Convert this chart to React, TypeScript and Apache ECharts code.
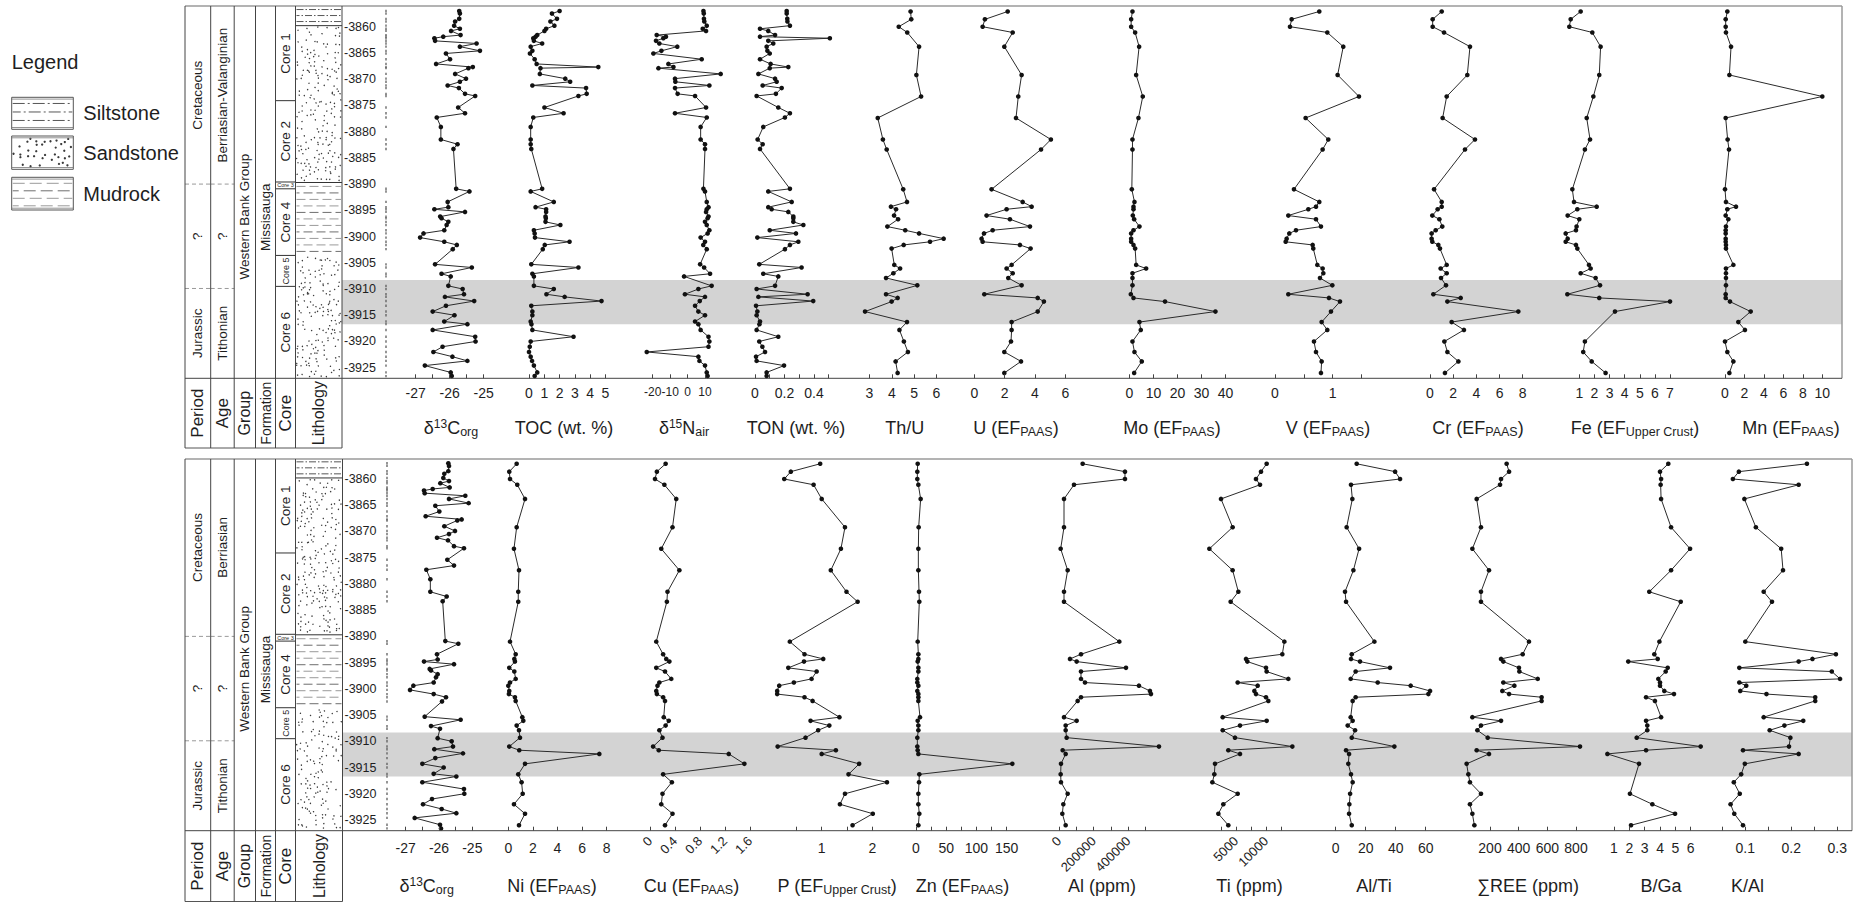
import React, { useEffect, useRef } from "react";
import * as echarts from "echarts";

const FONT = '"Liberation Sans", Arial, Helvetica, sans-serif';
const INK = "#1e1e1e";

// ---------------- data ----------------
const D13C_DEPTH = [3857.0, 3857.5, 3858.5, 3859.0, 3859.8, 3860.4, 3860.8, 3861.6, 3861.9, 3862.2,
  3862.7, 3863.2, 3863.8, 3864.6, 3865.1, 3866.2, 3867.1, 3867.7, 3867.9, 3869.0,
  3869.9, 3870.5, 3871.2, 3871.7, 3872.8, 3873.2, 3875.4, 3876.5, 3877.3, 3879.1,
  3881.5, 3882.4, 3883.3, 3890.9, 3891.4, 3893.4, 3894.4, 3894.8, 3895.3, 3896.2,
  3896.5, 3897.2, 3897.8, 3898.8, 3899.4, 3900.2, 3901.0, 3901.6, 3902.4, 3905.3,
  3905.9, 3907.1, 3907.6, 3909.4, 3910.0, 3911.0, 3911.5, 3912.3, 3913.2, 3914.3,
  3915.0, 3916.2, 3916.7, 3917.8, 3919.1, 3920.0, 3921.0, 3922.0, 3922.9, 3923.7,
  3924.6, 3925.9, 3926.6];
const D13C = [-25.72, -25.70, -25.72, -25.84, -25.87, -25.70, -25.96, -25.68, -26.19, -26.45,
  -26.43, -25.21, -25.70, -25.11, -26.11, -25.99, -26.40, -25.32, -25.45, -25.84,
  -25.52, -25.70, -26.06, -25.73, -25.55, -25.25, -25.75, -25.55, -26.38, -26.26,
  -26.26, -25.77, -25.89, -25.81, -25.42, -26.06, -26.04, -26.45, -25.55, -26.28,
  -26.24, -26.04, -26.09, -26.16, -26.77, -26.87, -26.16, -25.79, -25.91, -26.43,
  -25.35, -26.24, -25.97, -26.04, -25.62, -25.58, -26.14, -25.28, -26.11, -26.50,
  -25.86, -26.16, -25.48, -26.50, -25.25, -25.24, -26.21, -26.48, -25.92, -25.48,
  -26.73, -25.97, -25.94];
const TOC = [2.0, 1.5, 1.83, 1.4, 1.66, 1.12, 1.01, 0.54, 0.43, 0.28,
  0.32, 0.86, 0.11, 0.22, 0.06, 0.37, 0.5, 4.53, 0.75, 0.71,
  2.37, 2.69, 0.22, 3.73, 3.77, 3.23, 1.01, 2.26, 0.28, 0.11,
  0.11, 0.11, 0.15, 0.86, 0.11, 1.62, 0.43, 1.12, 1.12, 1.08,
  1.1, 1.08, 2.05, 0.32, 0.37, 0.39, 2.65, 1.03, 0.9, 0.15,
  3.23, 0.22, 0.32, 0.32, 1.62, 1.14, 2.33, 4.74, 0.15, 0.22,
  0.22, 0.11, 0.16, 0.22, 2.91, 0.11, 0.05, 0.0, 0.11, 0.2,
  0.32, 0.54, 0.37];
const D15N = [9.1, 9.3, 9.4, 9.6, 11.0, 8.7, 10.6, -17.7, -12.4, -13.9,
  -18.1, -16.2, -5.9, -15.0, -19.6, 8.1, -11.0, -8.1, -16.7, 19.0,
  -7.2, -7.0, 12.5, -7.2, -5.7, 4.3, 10.6, -7.2, 11.0, 7.5,
  7.5, 10.0, 10.0, 9.1, 10.0, 11.0, 12.0, 11.0, 10.6, 12.0,
  11.5, 10.0, 11.0, 12.5, 11.5, 7.5, 10.0, 9.0, 11.0, 7.2,
  9.5, 12.9, -2.0, 13.8, 6.2, -1.5, 10.0, 7.0, 4.3, 6.2,
  10.0, 4.3, 6.2, 7.5, 12.0, 12.5, 12.0, -23.4, 6.2, 6.8,
  10.0, 11.0, 11.5];
const TON = [0.215, 0.215, 0.219, 0.22, 0.237, 0.034, 0.09, 0.136, 0.034, 0.508,
  0.09, 0.124, 0.079, 0.084, 0.10, 0.034, 0.106, 0.226, 0.10, 0.023,
  0.136, 0.147, 0.052, 0.181, 0.142, 0.011, 0.158, 0.237, 0.203, 0.056,
  0.018, 0.052, 0.034, 0.237, 0.09, 0.249, 0.09, 0.113, 0.226, 0.26,
  0.26, 0.26, 0.328, 0.10, 0.278, 0.016, 0.294, 0.237, 0.203, 0.029,
  0.316, 0.056, 0.158, 0.136, 0.011, 0.357, 0.023, 0.395, 0.007, 0.016,
  0.011, 0.034, 0.03, 0.011, 0.158, 0.029, 0.05, 0.068, 0.007, 0.011,
  0.197, 0.079, 0.079];

const ELEM_DEPTH = [3857.1, 3858.6, 3860.0, 3861.1, 3863.8, 3869.2, 3873.3, 3877.4, 3881.5, 3883.4,
  3891.0, 3893.4, 3894.3, 3894.8, 3896.0, 3896.7, 3898.1, 3898.8, 3899.4, 3900.4,
  3901.0, 3901.6, 3902.3, 3905.4, 3906.1, 3907.0, 3907.9, 3909.3, 3911.0, 3911.7,
  3912.4, 3914.3, 3916.3, 3917.8, 3920.0, 3922.0, 3923.8, 3926.0];
const TH_U = [4.84, 4.87, 4.31, 4.69, 5.22, 5.10, 5.31, 3.37, 3.60, 3.77, 4.51, 4.68, 3.96, 4.19, 4.10, 4.28, 3.80, 4.60, 5.22, 6.32, 5.71, 4.53, 3.99, 4.11, 4.37, 4.07, 3.74, 5.14, 3.74, 4.26, 3.99, 2.80, 4.68, 4.34, 4.54, 4.72, 4.17, 4.26];
const U_EF = [2.20, 0.70, 0.55, 2.53, 1.98, 3.12, 2.90, 2.75, 5.05, 4.40, 1.14, 3.19, 3.78, 2.13, 0.81, 2.35, 3.67, 1.21, 0.64, 0.48, 0.55, 3.01, 3.71, 2.46, 2.13, 2.53, 2.24, 3.12, 0.66, 4.18, 4.59, 4.18, 2.46, 2.46, 2.42, 1.98, 3.08, 1.98];
const MO_EF = [1.24, 0.69, 0.69, 2.35, 4.01, 2.77, 5.53, 3.73, 1.24, 1.24, 0.97, 2.07, 1.66, 1.66, 1.38, 1.94, 4.15, 1.66, 0.69, 0.69, 0.69, 1.66, 2.35, 2.77, 6.92, 1.24, 1.24, 1.24, 0.55, 1.66, 14.8, 35.8, 4.15, 4.70, 1.24, 2.07, 5.12, 1.94];
const V_EF = [0.768, 0.289, 0.26, 0.907, 1.184, 1.086, 1.456, 0.531, 0.924, 0.826, 0.329, 0.768, 0.711, 0.578, 0.231, 0.711, 0.797, 0.364, 0.248, 0.202, 0.185, 0.653, 0.664, 0.734, 0.826, 0.838, 0.78, 0.994, 0.231, 0.936, 1.127, 0.971, 0.809, 0.907, 0.676, 0.711, 0.809, 0.797];
const CR_EF = [1.01, 0.23, 0.23, 1.21, 3.45, 3.22, 1.44, 1.09, 3.88, 3.02, 0.35, 1.01, 1.01, 0.66, 0.20, 0.81, 1.06, 0.49, 0.14, 0.14, 0.20, 0.72, 0.86, 1.44, 0.92, 1.44, 0.95, 1.38, 0.29, 2.65, 1.50, 7.62, 1.87, 2.93, 1.24, 1.50, 2.45, 1.29];
const FE_EF = [1.09, 0.43, 0.34, 1.86, 2.41, 2.32, 1.93, 1.49, 1.71, 1.37, 0.54, 0.65, 2.15, 0.87, 0.23, 1.0, 0.82, 0.78, 0.10, 0.23, 0.10, 0.78, 0.87, 1.64, 1.75, 1.09, 2.08, 2.37, 0.21, 2.32, 7.0, 3.36, null, null, 1.37, 1.26, 1.82, 2.74];
const MN_EF = [0.24, 0.07, 0.07, 0.10, 0.62, 0.45, 10.0, 0.07, 0.27, 0.41, 0.0, 0.10, 1.13, 0.24, 0.07, 0.34, 0.10, 0.07, 0.07, 0.07, 0.07, 0.10, 0.10, 0.86, 0.10, 0.10, 0.10, 0.10, 0.07, 0.07, 0.51, 2.64, 1.37, 2.05, 0.0, 0.24, 0.86, 0.45];
const NI_EF = [0.68, 0.08, 0.14, 0.73, 1.36, 0.68, 0.46, 0.87, 0.81, 0.81, 0.14, 0.60, 0.49, 0.54, 0.08, 0.49, 0.60, 0.14, 0.0, 0.08, 0.05, 0.54, 0.60, 1.14, 1.22, 0.68, 0.87, 0.95, 0.08, 0.89, 7.40, 1.36, 0.81, 1.08, 1.17, 0.46, 1.36, 0.87];
const CU_EF = [0.25, 0.11, 0.08, 0.23, 0.42, 0.36, 0.18, 0.47, 0.28, 0.27, 0.10, 0.21, 0.26, 0.31, 0.10, 0.24, 0.34, 0.15, 0.12, 0.10, 0.11, 0.21, 0.24, 0.22, 0.30, 0.25, 0.15, 0.20, 0.05, 0.14, 1.26, 1.51, 0.21, 0.35, 0.20, 0.18, 0.36, 0.24];
const P_EF = [0.97, 0.39, 0.26, 0.84, 1.0, 1.46, 1.38, 1.18, 1.49, 1.71, 0.37, 0.66, 1.03, 0.65, 0.34, 0.90, 0.80, 0.45, 0.16, 0.12, 0.12, 0.66, 0.82, 1.35, 0.78, 1.15, 0.93, 0.68, 0.13, 1.28, 1.0, 1.74, 1.53, 2.29, 1.46, 1.36, 2.01, 1.61];
const ZN_EF = [2.8, 2.2, 2.2, 3.9, 7.7, 4.4, 3.9, 3.9, 5.0, 5.5, 2.8, 3.9, 3.9, 2.8, 3.9, 3.9, 2.2, 2.2, 3.9, 2.2, 3.9, 3.9, 3.9, 6.6, 2.8, 3.9, 3.9, 2.2, 2.2, 2.8, 3.9, 159.3, 5.5, 5.0, 3.9, 3.9, 5.5, 3.9];
const AL_PPM = [136600, 380900, 380900, 86600, 28900, 28900, 9600, 50000, 28900, 28900, 348200, 127000, 63500, 102000, 386700, 127000, 127000, 150000, 461700, 525200, 531000, 127000, 107700, 28900, 102000, 38500, 38500, 44200, 577100, 21200, 38500, 11500, 9600, 11500, 50000, 25000, 19200, 38500];
const TI_PPM = [10110, 9170, 8330, 9000, 2500, 4440, 560, 4440, 5390, 4110, 13060, 12720, 6670, 6890, 10000, 10110, 13720, 5280, 8610, 8060, 8330, 10000, 10390, 2780, 10110, 5670, 2780, 4830, 14390, 3720, 5670, 1500, 1390, 1060, 5280, 2890, 2060, 3720];
const AL_TI = [14.0, 39.6, 42.9, 10.2, 11.1, 7.3, 15.6, 11.8, 6.2, 6.9, 25.8, 10.7, 10.2, 16.2, 36.2, 13.3, 10.0, 28.0, 50.0, 62.9, 61.8, 13.3, 11.3, 10.0, 11.3, 8.0, 12.9, 10.7, 39.1, 6.9, 8.9, 8.4, 10.2, 11.3, 9.6, 9.1, 8.9, 10.7];
const REE_PPM = [316, 333, 277, 270, 107, 137, 77, 193, 137, 137, 472, 428, 277, 293, 402, 405, 533, 293, 370, 286, 333, 560, 560, 77, 277, 137, 112, 184, 828, 107, 193, 37, 49, 60, 137, 60, 77, 91];
const B_GA = [4.54, 4.0, 4.07, 4.04, 4.07, 4.72, 5.96, 4.72, 3.30, 5.35, 3.96, 3.63, 3.85, 1.93, 4.5, 4.37, 3.89, 4.0, 4.0, 4.28, 4.91, 3.09, 3.67, 4.07, 3.09, 3.17, 3.17, 2.48, 6.65, 3.09, 0.57, 2.63, null, null, 2.04, 3.5, 4.98, 2.11];
const K_AL = [0.234, 0.086, 0.073, 0.216, 0.098, 0.123, 0.178, 0.182, 0.140, 0.158, 0.100, 0.297, 0.246, 0.216, 0.087, 0.288, 0.306, 0.087, 0.102, 0.089, 0.146, 0.252, 0.252, 0.140, 0.226, 0.185, 0.153, 0.198, 0.195, 0.095, 0.216, 0.099, 0.091, 0.075, 0.088, 0.068, 0.076, 0.095];

// shaded interval (depth, m)
const BAND = [3908.3, 3916.7];
// depth axis (m)
const DEPTH_AXIS = [3860, 3925];
const DEPTH_DATA_RANGE = [3855, 3928];

// stratigraphic column
const COLUMN_LIMITS = [3856.1, 3927.0];
const PERIOD_NAMES = ["Cretaceous", "?", "Jurassic"];
const AGE_NAMES_TOP = ["Berriasian-Valanginian", "?", "Tithonian"];
const AGE_NAMES_BOTTOM = ["Berriasian", "?", "Tithonian"];
const AGE_BOUNDS = [3856.1, 3890.0, 3909.9, 3927.0];
const GROUP_NAME = "Western Bank Group";
const GROUP_LABEL_DEPTH = 3896.2;
const FORMATION_NAME = "Missisauga";
const FORMATION_LABEL_DEPTH = 3896.3;
const CORE_NAMES = ["Core 1", "Core 2", "Core 3", "Core 4", "Core 5", "Core 6"];
const CORE_BOUNDS = [3856.1, 3874.1, 3889.6, 3890.9, 3903.6, 3909.5, 3927.0];
const LITHO_TYPES = ["silt", "sand", "mud", "sand"];
const LITHO_BOUNDS = [3856.1, 3859.8, 3889.7, 3903.6, 3927.0];
const HEADERS = ["Period", "Age", "Group", "Formation", "Core", "Lithology"];
const LEGEND_ITEMS = ["Siltstone", "Sandstone", "Mudrock"];

// tick labels
const TL_D13C = [-27, -26, -25];
const TL_TOC = [0, 1, 2, 3, 4, 5];
const TL_D15N = [-20, -10, 0, 10];
const TL_TON = [0, 0.2, 0.4];
const TL_THU = [3, 4, 5, 6];
const TL_U = [0, 2, 4, 6];
const TL_MO = [0, 10, 20, 30, 40];
const TL_V = [0, 1];
const TL_CR = [0, 2, 4, 6, 8];
const TL_FE = [1, 2, 3, 4, 5, 6, 7];
const TL_MN = [0, 2, 4, 6, 8, 10];
const TL_NI = [0, 2, 4, 6, 8];
const TL_CU = [0, 0.4, 0.8, 1.2, 1.6];
const TL_P = [1, 2];
const TL_ZN = [0, 50, 100, 150];
const TL_AL = [0, 200000, 400000];
const TL_TI = [5000, 10000];
const TL_ALTI = [0, 20, 40, 60];
const TL_REE = [200, 400, 600, 800];
const TL_BGA = [1, 2, 3, 4, 5, 6];
const TL_KAL = [0.1, 0.2, 0.3];

// titles (rich text)
const TITLES_TOP = [
  "{n|δ}{sup|13}{n|C}{sub|org}", "{n|TOC (wt. %)}", "{n|δ}{sup|15}{n|N}{sub|air}", "{n|TON (wt. %)}",
  "{n|Th/U}", "{n|U (EF}{sub|PAAS}{n|)}", "{n|Mo (EF}{sub|PAAS}{n|)}", "{n|V (EF}{sub|PAAS}{n|)}",
  "{n|Cr (EF}{sub|PAAS}{n|)}", "{n|Fe (EF}{sub|Upper Crust}{n|)}", "{n|Mn (EF}{sub|PAAS}{n|)}",
];
const TITLES_BOTTOM = [
  "{n|δ}{sup|13}{n|C}{sub|org}", "{n|Ni (EF}{sub|PAAS}{n|)}", "{n|Cu (EF}{sub|PAAS}{n|)}", "{n|P (EF}{sub|Upper Crust}{n|)}",
  "{n|Zn (EF}{sub|PAAS}{n|)}", "{n|Al (ppm)}", "{n|Ti (ppm)}", "{n|Al/Ti}", "{n|∑REE (ppm)}", "{n|B/Ga}", "{n|K/Al}",
];

// ---------------- layout ----------------
const GEO = [
  { y3860: 26.7, y3925: 367.7, frameTop: 6, axisY: 378.3, headerBottom: 448, right: 1842, depthX: 342, markX: 386, labelMargin: 8, titleY: 428 },
  { y3860: 479, y3925: 820, frameTop: 459, axisY: 830.7, headerBottom: 901.5, right: 1852, depthX: 342.5, markX: 387, labelMargin: 10, titleY: 886 },
];
const COL_X = [185, 210.7, 234.2, 255.5, 275.5, 295.5];

type Sub = { vals: (number | null)[]; depth: number[]; min: number; max: number; interval: number; x0: number; x1: number; labels: number[]; tx: number; rotate?: number; fs?: number };

const TOP_SUBS: Sub[] = [
  { vals: D13C, depth: D13C_DEPTH, min: -27, max: -25, interval: 0.5, x0: 415.7, x1: 483.7, labels: TL_D13C, tx: 451 },
  { vals: TOC, depth: D13C_DEPTH, min: 0, max: 5, interval: 1, x0: 529, x1: 605.5, labels: TL_TOC, tx: 564 },
  { vals: D15N, depth: D13C_DEPTH, min: -20, max: 10, interval: 10, x0: 652.7, x1: 705, labels: TL_D15N, tx: 684, fs: 12 },
  { vals: TON, depth: D13C_DEPTH, min: 0, max: 0.5, interval: 0.1, x0: 755, x1: 828.7, labels: TL_TON, tx: 796 },
  { vals: TH_U, depth: ELEM_DEPTH, min: 3, max: 6, interval: 1, x0: 869.5, x1: 936.5, labels: TL_THU, tx: 904.7 },
  { vals: U_EF, depth: ELEM_DEPTH, min: 0, max: 6, interval: 2, x0: 974.3, x1: 1065.3, labels: TL_U, tx: 1016 },
  { vals: MO_EF, depth: ELEM_DEPTH, min: 0, max: 40, interval: 10, x0: 1129.5, x1: 1225.5, labels: TL_MO, tx: 1172 },
  { vals: V_EF, depth: ELEM_DEPTH, min: 0, max: 1.5, interval: 0.5, x0: 1275, x1: 1361.5, labels: TL_V, tx: 1328 },
  { vals: CR_EF, depth: ELEM_DEPTH, min: 0, max: 8, interval: 2, x0: 1430, x1: 1522.7, labels: TL_CR, tx: 1478 },
  { vals: FE_EF, depth: ELEM_DEPTH, min: 1, max: 7, interval: 1, x0: 1579.3, x1: 1670, labels: TL_FE, tx: 1635 },
  { vals: MN_EF, depth: ELEM_DEPTH, min: 0, max: 10, interval: 2, x0: 1725, x1: 1822.3, labels: TL_MN, tx: 1791 },
];
const BOTTOM_SUBS: Sub[] = [
  { vals: D13C, depth: D13C_DEPTH, min: -27, max: -25, interval: 0.5, x0: 405.7, x1: 472.3, labels: TL_D13C, tx: 426.7 },
  { vals: NI_EF, depth: ELEM_DEPTH, min: 0, max: 8, interval: 2, x0: 508.3, x1: 606.7, labels: TL_NI, tx: 552 },
  { vals: CU_EF, depth: ELEM_DEPTH, min: 0, max: 1.6, interval: 0.4, x0: 650, x1: 750, labels: TL_CU, tx: 691.5, rotate: 45, fs: 13 },
  { vals: P_EF, depth: ELEM_DEPTH, min: 0.5, max: 2, interval: 0.5, x0: 796.4, x1: 872.3, labels: TL_P, tx: 837 },
  { vals: ZN_EF, depth: ELEM_DEPTH, min: 0, max: 150, interval: 25, x0: 916, x1: 1006.7, labels: TL_ZN, tx: 962.5 },
  { vals: AL_PPM, depth: ELEM_DEPTH, min: 0, max: 500000, interval: 100000, x0: 1059, x1: 1145.6, labels: TL_AL, tx: 1102, rotate: 45, fs: 13 },
  { vals: TI_PPM, depth: ELEM_DEPTH, min: 2500, max: 12500, interval: 2500, x0: 1221, x1: 1281, labels: TL_TI, tx: 1249.5, rotate: 45, fs: 13 },
  { vals: AL_TI, depth: ELEM_DEPTH, min: 0, max: 60, interval: 20, x0: 1335.7, x1: 1425.7, labels: TL_ALTI, tx: 1374 },
  { vals: REE_PPM, depth: ELEM_DEPTH, min: 200, max: 800, interval: 200, x0: 1490, x1: 1576, labels: TL_REE, tx: 1528 },
  { vals: B_GA, depth: ELEM_DEPTH, min: 1, max: 6, interval: 1, x0: 1614, x1: 1690.7, labels: TL_BGA, tx: 1661 },
  { vals: K_AL, depth: ELEM_DEPTH, min: 0.05, max: 0.3, interval: 0.05, x0: 1722.3, x1: 1837.3, labels: TL_KAL, tx: 1747.5 },
];

// ---------------- pattern helpers ----------------
function frac(x: number) { return x - Math.floor(x); }
function hsh(k: number, a: number) { return frac(Math.sin(k * a) * 43758.5453); }

function sandPattern(x0: number, y0: number, x1: number, y1: number, step: number, r: number, seed: number, keep: number) {
  const out: any[] = [];
  let k = seed;
  for (let y = y0 + step * 0.5; y < y1 - 0.5; y += step) {
    for (let x = x0 + step * 0.5; x < x1 - 0.5; x += step) {
      k += 1;
      if (hsh(k, 39.42) > keep) continue;
      const cx = x + (hsh(k, 12.9898) - 0.5) * step * 0.85;
      const cy = y + (hsh(k, 78.233) - 0.5) * step * 0.85;
      if (cx < x0 + 1 || cx > x1 - 1 || cy < y0 + 1 || cy > y1 - 1) continue;
      out.push({ type: "circle", silent: true, shape: { cx, cy, r }, style: { fill: "#3a3a3a" } });
    }
  }
  return out;
}
function siltPattern(x0: number, y0: number, x1: number, y1: number, gap: number, dash: number[]) {
  const out: any[] = [];
  let i = 0;
  for (let y = y0 + gap * 0.55; y < y1 - 1; y += gap) {
    out.push({ type: "line", silent: true, shape: { x1: x0 + 1, y1: y, x2: x1 - 1, y2: y }, style: { stroke: "#444", lineWidth: 0.9, lineDash: dash, lineDashOffset: (i % 2) * 4 } });
    i++;
  }
  return out;
}
function mudPattern(x0: number, y0: number, x1: number, y1: number, gap: number, dash: number[]) {
  const out: any[] = [];
  let i = 0;
  for (let y = y0 + gap * 0.6; y < y1 - 1; y += gap) {
    out.push({ type: "line", silent: true, shape: { x1: x0 + 1, y1: y, x2: x1 - 1, y2: y }, style: { stroke: i % 3 === 1 ? "#6e6e6e" : "#9a9a9a", lineWidth: 1, lineDash: dash, lineDashOffset: (i % 2) * 6 } });
    i++;
  }
  return out;
}
function patternFor(type: string, x0: number, y0: number, x1: number, y1: number, seed: number, legend: boolean) {
  if (type === "sand") return legend ? sandPattern(x0, y0, x1, y1, 6, 1.15, seed, 0.7) : sandPattern(x0, y0, x1, y1, 4.2, 0.7, seed, 0.72);
  if (type === "silt") return legend ? siltPattern(x0, y0, x1, y1, 8.5, [12, 3, 2, 3]) : siltPattern(x0, y0, x1, y1, 6, [7, 2, 1.5, 2]);
  return legend ? mudPattern(x0, y0, x1, y1, 7.5, [12, 5]) : mudPattern(x0, y0, x1, y1, 6.5, [9, 4]);
}

type Cell = { col: number; top: number; bottom: number; label?: string; fs?: number; horiz?: boolean; fill?: string; line?: string | null; labelDepth?: number; seed: number };

function buildCells(ageNames: string[]): Cell[] {
  const cells: Cell[] = [];
  for (let i = 0; i < 3; i++) {
    cells.push({ col: 0, top: AGE_BOUNDS[i], bottom: AGE_BOUNDS[i + 1], label: PERIOD_NAMES[i], line: i < 2 ? "dash" : null, seed: 0 });
    cells.push({ col: 1, top: AGE_BOUNDS[i], bottom: AGE_BOUNDS[i + 1], label: ageNames[i], line: i < 2 ? "dash" : null, seed: 0 });
  }
  cells.push({ col: 2, top: COLUMN_LIMITS[0], bottom: COLUMN_LIMITS[1], label: GROUP_NAME, labelDepth: GROUP_LABEL_DEPTH, seed: 0 });
  cells.push({ col: 3, top: COLUMN_LIMITS[0], bottom: COLUMN_LIMITS[1], label: FORMATION_NAME, labelDepth: FORMATION_LABEL_DEPTH, seed: 0 });
  for (let i = 0; i < CORE_NAMES.length; i++) {
    cells.push({ col: 4, top: CORE_BOUNDS[i], bottom: CORE_BOUNDS[i + 1], label: CORE_NAMES[i], fs: i === 2 ? 5.5 : i === 4 ? 9 : 13.5, horiz: i === 2, line: i < CORE_NAMES.length - 1 ? "solid" : null, seed: 0 });
  }
  for (let i = 0; i < LITHO_TYPES.length; i++) {
    cells.push({ col: 5, top: LITHO_BOUNDS[i], bottom: LITHO_BOUNDS[i + 1], fill: LITHO_TYPES[i], line: i < 2 ? "solid" : null, seed: 1000 * (i + 1) });
  }
  return cells;
}

function tickFormatter(labels: number[]) {
  return (v: number) => {
    const ok = labels.some((l) => Math.abs(l - v) < 1e-6 * Math.max(1, Math.abs(l)));
    return ok ? String(parseFloat(v.toFixed(6))) : "";
  };
}

const RICH = {
  n: { fontSize: 18, fontFamily: FONT, fill: INK, lineHeight: 20 },
  sup: { fontSize: 12, fontFamily: FONT, fill: INK, lineHeight: 12, verticalAlign: "top" },
  sub: { fontSize: 12.5, fontFamily: FONT, fill: INK, lineHeight: 14, verticalAlign: "bottom" },
};

function buildOption() {
  const grid: any[] = [];
  const xAxis: any[] = [];
  const yAxis: any[] = [];
  const series: any[] = [];
  const graphic: any[] = [];

  const addGrid = (left: number, width: number, geo: any) => {
    grid.push({ left, width, top: geo.y3860, height: geo.y3925 - geo.y3860, containLabel: false });
    return grid.length - 1;
  };
  const hiddenX = (g: number) => ({ gridIndex: g, type: "value", min: 0, max: 1, show: false });
  const hiddenY = (g: number) => ({ gridIndex: g, type: "value", min: -DEPTH_AXIS[1], max: -DEPTH_AXIS[0], show: false });

  const panels = [
    { subs: TOP_SUBS, titles: TITLES_TOP, ages: AGE_NAMES_TOP },
    { subs: BOTTOM_SUBS, titles: TITLES_BOTTOM, ages: AGE_NAMES_BOTTOM },
  ];

  panels.forEach((panel, p) => {
    const geo = GEO[p];
    const pxPerM = (geo.y3925 - geo.y3860) / (DEPTH_AXIS[1] - DEPTH_AXIS[0]);

    // shaded band + depth labels
    let g = addGrid(geo.depthX, geo.right - geo.depthX, geo);
    xAxis.push(hiddenX(g));
    yAxis.push({
      gridIndex: g, type: "value", min: -DEPTH_AXIS[1], max: -DEPTH_AXIS[0], interval: 5, position: "left", z: 6,
      axisLine: { show: false }, axisTick: { show: false }, splitLine: { show: false },
      axisLabel: { inside: true, margin: 2, fontSize: 12.5, color: INK, fontFamily: FONT, formatter: (v: number) => String(v) },
    });
    series.push({
      type: "custom", xAxisIndex: g, yAxisIndex: g, z: 0, silent: true,
      data: [[0.5, -(BAND[0] + BAND[1]) / 2]],
      renderItem: (_params: any, api: any) => {
        const a = api.coord([0, -BAND[0]]);
        const b = api.coord([1, -BAND[1]]);
        return { type: "rect", shape: { x: a[0], y: a[1], width: b[0] - a[0], height: b[1] - a[1] }, style: { fill: "#d3d3d3" } };
      },
    });

    // stratigraphic column
    const cells = buildCells(panel.ages);
    const colX = [...COL_X, geo.depthX];
    g = addGrid(COL_X[0], geo.depthX - COL_X[0], geo);
    xAxis.push(hiddenX(g));
    yAxis.push(hiddenY(g));
    series.push({
      type: "custom", xAxisIndex: g, yAxisIndex: g, z: 2, silent: true, clip: false,
      data: cells.map(() => [0.5, -3890]),
      renderItem: (params: any, api: any) => {
        const c = cells[params.dataIndex];
        const x0 = colX[c.col];
        const x1 = colX[c.col + 1];
        const y0 = api.coord([0, -c.top])[1];
        const y1 = api.coord([0, -c.bottom])[1];
        const children: any[] = [];
        if (c.fill) children.push(...patternFor(c.fill, x0, y0, x1, y1, c.seed + p * 500, false));
        if (c.line) {
          const dash = c.line === "dash";
          children.push({ type: "line", shape: { x1: x0, y1: y1, x2: x1, y2: y1 }, style: { stroke: dash ? "#9a9a9a" : "#333", lineWidth: 1, lineDash: dash ? [4, 3] : null } });
        }
        if (c.label) {
          const ly = c.labelDepth ? api.coord([0, -c.labelDepth])[1] : (y0 + y1) / 2;
          children.push({
            type: "text", x: (x0 + x1) / 2, y: ly, rotation: c.horiz ? 0 : Math.PI / 2,
            style: { text: c.label, fontSize: c.fs || 13.5, fontFamily: FONT, fill: INK, align: "center", verticalAlign: "middle" },
          });
        }
        return { type: "group", children };
      },
    });

    // sample marks
    g = addGrid(geo.markX - 3, 6, geo);
    xAxis.push(hiddenX(g));
    yAxis.push(hiddenY(g));
    series.push({
      type: "scatter", xAxisIndex: g, yAxisIndex: g, z: 3, silent: true, clip: false,
      symbol: "rect", symbolSize: [1.6, 2.4], itemStyle: { color: "#5a5a5a" },
      data: D13C_DEPTH.map((d) => [0.5, -d]),
    });

    // profiles
    panel.subs.forEach((s, k) => {
      // tick axis (exact labelled range)
      const ti = addGrid(s.x0, s.x1 - s.x0, geo);
      yAxis.push(hiddenY(ti));
      xAxis.push({
        gridIndex: ti, type: "value", min: s.min, max: s.max, interval: s.interval, position: "bottom", z: 6,
        offset: geo.axisY - geo.y3925,
        axisLine: { show: false },
        axisTick: { show: true, inside: true, length: 4, lineStyle: { color: "#444", width: 1 } },
        splitLine: { show: false },
        axisLabel: {
          show: true, showMinLabel: true, showMaxLabel: true, hideOverlap: false,
          margin: s.rotate ? geo.labelMargin - 2 : geo.labelMargin, rotate: s.rotate || 0,
          fontSize: s.fs || 14, color: INK, fontFamily: FONT, formatter: tickFormatter(s.labels),
        },
      });
      // data axis (same scale, wide enough for every value)
      const valid = s.vals.filter((v) => v !== null) as number[];
      const span = s.max - s.min;
      const dmin = Math.min(s.min, ...valid) - span * 0.05;
      const dmax = Math.max(s.max, ...valid) + span * 0.05;
      const pxPerUnit = (s.x1 - s.x0) / span;
      grid.push({
        left: s.x0 + (dmin - s.min) * pxPerUnit, width: (dmax - dmin) * pxPerUnit,
        top: geo.y3860 - (DEPTH_AXIS[0] - DEPTH_DATA_RANGE[0]) * pxPerM,
        height: (DEPTH_DATA_RANGE[1] - DEPTH_DATA_RANGE[0]) * pxPerM, containLabel: false,
      });
      const di = grid.length - 1;
      xAxis.push({ gridIndex: di, type: "value", min: dmin, max: dmax, show: false });
      yAxis.push({ gridIndex: di, type: "value", min: -DEPTH_DATA_RANGE[1], max: -DEPTH_DATA_RANGE[0], show: false });
      const data: any[] = [];
      s.vals.forEach((v, i) => { if (v !== null) data.push([v, -s.depth[i]]); });
      series.push({
        type: "line", xAxisIndex: di, yAxisIndex: di, z: 4, silent: true, clip: false,
        data, symbol: "circle", symbolSize: 4.6, showAllSymbol: true,
        lineStyle: { color: "#2b2b2b", width: 1 }, itemStyle: { color: "#111" },
      });
      graphic.push({
        type: "text", x: s.tx, y: geo.titleY, z: 10, silent: true,
        style: { text: panel.titles[k], rich: RICH, align: "center", verticalAlign: "middle", fontSize: 18, fontFamily: FONT, fill: INK },
      });
    });

    // frame
    const L = (x1: number, y1: number, x2: number, y2: number, stroke: string, w: number) =>
      graphic.push({ type: "line", z: 9, silent: true, shape: { x1, y1, x2, y2 }, style: { stroke, lineWidth: w } });
    L(COL_X[0], geo.frameTop, geo.right, geo.frameTop, "#9a9a9a", 1.5);
    L(geo.right, geo.frameTop, geo.right, geo.axisY, "#9a9a9a", 1.5);
    L(COL_X[0], geo.axisY, geo.right, geo.axisY, "#444", 1);
    L(COL_X[0], geo.headerBottom, geo.depthX, geo.headerBottom, "#555", 1);
    colX.forEach((x) => L(x, geo.frameTop, x, geo.headerBottom, "#444", 1));
    const hs = [17, 17, 16, 14, 17, 16];
    HEADERS.forEach((h, i) => {
      graphic.push({
        type: "text", x: (colX[i] + colX[i + 1]) / 2, y: (geo.axisY + geo.headerBottom) / 2, rotation: Math.PI / 2, z: 10, silent: true,
        style: { text: h, fontSize: hs[i], fontFamily: FONT, fill: INK, align: "center", verticalAlign: "middle" },
      });
    });
  });

  // legend
  graphic.push({ type: "text", x: 11.7, y: 62, z: 10, silent: true, style: { text: "Legend", fontSize: 20, fontFamily: FONT, fill: INK, align: "left", verticalAlign: "middle" } });
  const boxes = [[97.3, 129.3], [136, 169.3], [177.3, 210]];
  const types = ["silt", "sand", "mud"];
  boxes.forEach(([y0, y1], i) => {
    const x0 = 11.7, x1 = 73.3;
    graphic.push({ type: "rect", z: 8, silent: true, shape: { x: x0, y: y0, width: x1 - x0, height: y1 - y0 }, style: { fill: "#fff", stroke: "#555", lineWidth: 1 } });
    patternFor(types[i], x0, y0 + 1.5, x1, y1 - 1.5, 77 + i * 31, true).forEach((el: any) => graphic.push({ ...el, z: 9 }));
    graphic.push({ type: "line", z: 9, silent: true, shape: { x1: x0, y1: y0 + 1.8, x2: x1, y2: y0 + 1.8 }, style: { stroke: "#777", lineWidth: 0.8 } });
    graphic.push({ type: "line", z: 9, silent: true, shape: { x1: x0, y1: y1 - 1.8, x2: x1, y2: y1 - 1.8 }, style: { stroke: "#777", lineWidth: 0.8 } });
    graphic.push({ type: "text", x: 83.3, y: (y0 + y1) / 2, z: 10, silent: true, style: { text: LEGEND_ITEMS[i], fontSize: 20, fontFamily: FONT, fill: INK, align: "left", verticalAlign: "middle" } });
  });

  return {
    animation: false,
    backgroundColor: "#ffffff",
    textStyle: { fontFamily: FONT },
    grid, xAxis, yAxis, series,
    graphic: { elements: graphic },
  };
}

export default function App() {
  const ref = useRef<HTMLDivElement>(null);
  useEffect(() => {
    if (!ref.current) return;
    const chart = echarts.init(ref.current, null, { renderer: "svg" });
    chart.setOption(buildOption() as any);
    return () => chart.dispose();
  }, []);
  return <div ref={ref} style={{ position: "fixed", left: 0, top: 0, width: 1865, height: 902, background: "#fff" }} />;
}
